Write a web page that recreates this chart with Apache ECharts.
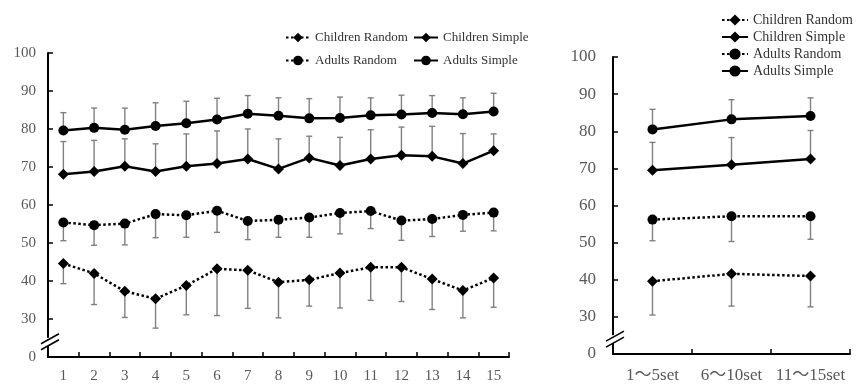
<!DOCTYPE html>
<html>
<head>
<meta charset="utf-8">
<script src="https://cdn.jsdelivr.net/npm/echarts@6/dist/echarts.min.js"></script>
<style>
  html, body { margin: 0; padding: 0; background: #fff; }
  #chart { width: 858px; height: 389px; }
</style>
</head>
<body>
<div id="chart"></div>
<script>
// per-set values (left panel)
const sets = ['1','2','3','4','5','6','7','8','9','10','11','12','13','14','15'];
const childrenRandom     = [44.6, 42.0, 37.3, 35.3, 38.8, 43.2, 42.8, 39.7, 40.3, 42.1, 43.6, 43.6, 40.5, 37.5, 40.8];
const childrenRandomLow  = [39.3, 33.8, 30.4, 27.6, 31.1, 30.9, 32.8, 30.3, 33.4, 32.9, 34.9, 34.6, 32.5, 30.3, 33.1];
const childrenSimple     = [68.1, 68.8, 70.2, 68.8, 70.2, 70.9, 72.1, 69.5, 72.4, 70.4, 72.1, 73.1, 72.8, 70.9, 74.3];
const childrenSimpleHigh = [76.7, 77.0, 77.4, 76.1, 78.7, 79.5, 80.0, 77.4, 78.1, 77.8, 79.8, 80.5, 80.7, 78.8, 78.7];
const adultsRandom       = [55.4, 54.7, 55.1, 57.6, 57.3, 58.5, 55.8, 56.1, 56.7, 57.9, 58.4, 55.9, 56.3, 57.4, 58.0];
const adultsRandomLow    = [50.6, 49.4, 49.5, 51.4, 51.5, 52.8, 50.9, 51.5, 51.5, 52.4, 53.8, 50.7, 51.7, 53.1, 53.2];
const adultsSimple       = [79.6, 80.3, 79.8, 80.8, 81.5, 82.5, 84.0, 83.5, 82.8, 82.9, 83.6, 83.8, 84.2, 83.9, 84.6];
const adultsSimpleHigh   = [84.3, 85.5, 85.5, 86.9, 87.3, 88.1, 88.8, 88.2, 88.0, 88.4, 88.2, 88.9, 88.8, 88.2, 89.4];

// block averages (right panel)
const blocks = ['1～5set', '6～10set', '11～15set'];
const blockChildrenRandom     = [39.6, 41.6, 41.0];
const blockChildrenRandomLow  = [30.5, 32.9, 32.7];
const blockChildrenSimple     = [69.5, 71.0, 72.5];
const blockChildrenSimpleHigh = [77.0, 78.3, 80.2];
const blockAdultsRandom       = [56.2, 57.1, 57.1];
const blockAdultsRandomLow    = [50.5, 50.3, 50.9];
const blockAdultsSimple       = [80.5, 83.2, 84.1];
const blockAdultsSimpleHigh   = [85.9, 88.5, 89.0];

const yTicks = [20, 30, 40, 50, 60, 70, 80, 90, 100]; // 20 is drawn as the broken "0"

const FONT = '"Liberation Serif", "Times New Roman", "Noto Sans CJK JP", serif';
const LABEL = '#595959';

const chart = echarts.init(document.getElementById('chart'), null, { renderer: 'canvas' });

function errBars(values, ends, gi) {
  return {
    type: 'custom',
    xAxisIndex: gi,
    yAxisIndex: gi,
    z: 1,
    silent: true,
    encode: { x: 0, y: [1, 2] },
    data: values.map((v, i) => [i, v, ends[i]]),
    renderItem: function (params, api) {
      const p0 = api.coord([api.value(0), api.value(1)]);
      const p1 = api.coord([api.value(0), api.value(2)]);
      const st = { stroke: '#808080', lineWidth: 1.4 };
      return {
        type: 'group',
        children: [
          { type: 'line', shape: { x1: p0[0], y1: p0[1], x2: p1[0], y2: p1[1] }, style: st },
          { type: 'line', shape: { x1: p1[0] - 3, y1: p1[1], x2: p1[0] + 3, y2: p1[1] }, style: st }
        ]
      };
    }
  };
}

function lineSeries(name, values, gi, dotted, symbol) {
  return {
    name: name,
    type: 'line',
    xAxisIndex: gi,
    yAxisIndex: gi,
    z: 3,
    data: values,
    symbol: symbol,
    symbolSize: symbol === 'diamond' ? 11 : 10,
    itemStyle: { color: '#000' },
    lineStyle: { color: '#000', width: 2.5, type: dotted ? [2.5, 2.5] : 'solid' },
    emphasis: { disabled: true }
  };
}

function xAxis(gi, data, fontSize, margin) {
  return {
    type: 'category',
    gridIndex: gi,
    data: data,
    axisLine: { lineStyle: { color: '#000', width: 2 } },
    axisTick: { show: true, inside: true, length: 5, lineStyle: { color: '#000', width: 1.5 } },
    axisLabel: { color: LABEL, fontFamily: FONT, fontSize: fontSize, margin: margin,
                 interval: 0, hideOverlap: false }
  };
}

function yAxis(gi, fontSize, margin) {
  return {
    type: 'value',
    gridIndex: gi,
    min: yTicks[0],
    max: yTicks[yTicks.length - 1],
    interval: 10,
    splitLine: { show: false },
    axisLine: { show: true, lineStyle: { color: '#000', width: 2 } },
    axisTick: { show: true, inside: true, length: 5, lineStyle: { color: '#000', width: 1.5 } },
    axisLabel: {
      color: LABEL, fontFamily: FONT, fontSize: fontSize, margin: margin,
      formatter: v => (v === yTicks[0] ? '0' : String(v))
    }
  };
}

const legendText = { fontFamily: FONT, fontSize: 13, color: '#333' };

const option = {
  animation: false,
  backgroundColor: '#fff',
  grid: [
    { left: 48, right: 349, top: 53, bottom: 32 },
    { left: 613, right: 8, top: 57, bottom: 35 }
  ],
  legend: [
    { data: ['Children Random', 'Adults Random'], orient: 'vertical', left: 280, top: 26,
      itemWidth: 24, itemHeight: 12, itemGap: 10, textStyle: legendText, selectedMode: false },
    { data: ['Children Simple', 'Adults Simple'], orient: 'vertical', left: 408, top: 26,
      itemWidth: 24, itemHeight: 12, itemGap: 10, textStyle: legendText, selectedMode: false },
    { data: ['Children Random', 'Children Simple', 'Adults Random', 'Adults Simple'], orient: 'vertical',
      left: 716, top: 8, itemWidth: 26, itemHeight: 14, itemGap: 3,
      textStyle: Object.assign({}, legendText, { fontSize: 14 }), selectedMode: false }
  ],
  xAxis: [xAxis(0, sets, 15, 12), xAxis(1, blocks, 17, 13)],
  yAxis: [yAxis(0, 15, 12), yAxis(1, 17, 17)],
  series: [
    errBars(childrenRandom, childrenRandomLow, 0),
    errBars(childrenSimple, childrenSimpleHigh, 0),
    errBars(adultsRandom, adultsRandomLow, 0),
    errBars(adultsSimple, adultsSimpleHigh, 0),
    lineSeries('Children Random', childrenRandom, 0, true, 'diamond'),
    lineSeries('Children Simple', childrenSimple, 0, false, 'diamond'),
    lineSeries('Adults Random', adultsRandom, 0, true, 'circle'),
    lineSeries('Adults Simple', adultsSimple, 0, false, 'circle'),

    errBars(blockChildrenRandom, blockChildrenRandomLow, 1),
    errBars(blockChildrenSimple, blockChildrenSimpleHigh, 1),
    errBars(blockAdultsRandom, blockAdultsRandomLow, 1),
    errBars(blockAdultsSimple, blockAdultsSimpleHigh, 1),
    lineSeries('Children Random', blockChildrenRandom, 1, true, 'diamond'),
    lineSeries('Children Simple', blockChildrenSimple, 1, false, 'diamond'),
    lineSeries('Adults Random', blockAdultsRandom, 1, true, 'circle'),
    lineSeries('Adults Simple', blockAdultsSimple, 1, false, 'circle')
  ]
};

chart.setOption(option);

// axis break marks ("//") between 0 and 30
function breakMark(gi, axisX) {
  const y = chart.convertToPixel({ yAxisIndex: gi }, 24);
  const st = { stroke: '#000', lineWidth: 1.6 };
  return [
    { type: 'rect', shape: { x: axisX - 2, y: y - 4, width: 4, height: 8 }, style: { fill: '#fff' }, z: 100 },
    { type: 'line', shape: { x1: axisX - 7, y1: y + 8, x2: axisX + 11, y2: y - 2 }, style: st, z: 101 },
    { type: 'line', shape: { x1: axisX - 7, y1: y + 2, x2: axisX + 11, y2: y - 8 }, style: st, z: 101 }
  ];
}

chart.setOption({ graphic: breakMark(0, 48).concat(breakMark(1, 613)) });
</script>
</body>
</html>
